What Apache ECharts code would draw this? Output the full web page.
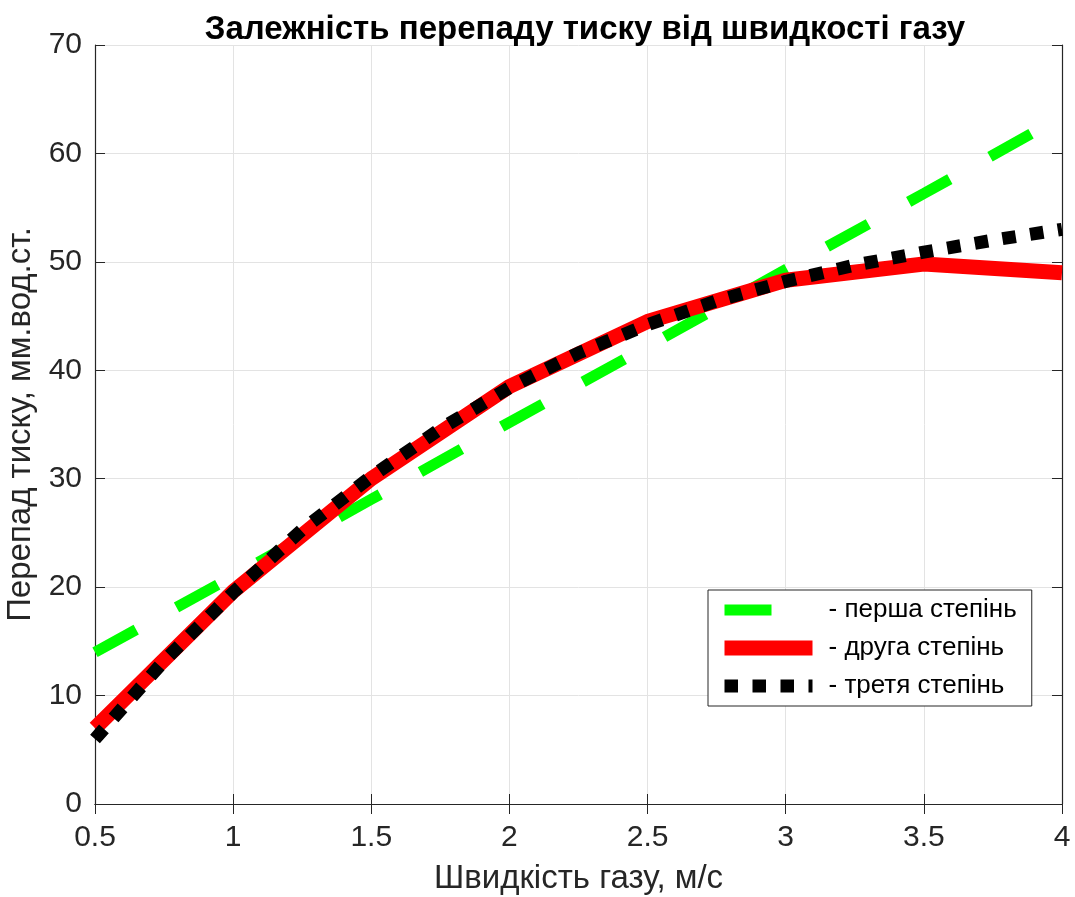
<!DOCTYPE html>
<html>
<head>
<meta charset="utf-8">
<script src="https://cdn.jsdelivr.net/npm/echarts@6/dist/echarts.min.js"></script>
<style>
html,body{margin:0;padding:0;background:#fff;}
#chart{width:1075px;height:897px;}
</style>
</head>
<body>
<div id="chart"></div>
<script>
const xValues = [0.5, 1, 1.5, 2, 2.5, 3, 3.5, 4];
const firstDegree = [14.0, 21.0, 28.1, 35.2, 42.2, 49.3, 56.3, 63.4];
const secondDegree = [7.0, 19.6, 30.0, 38.5, 44.5, 48.3, 49.8, 49.0];
const xThird = [0.5, 0.75, 1, 1.25, 1.5, 1.75, 2, 2.25, 2.5, 2.75, 3, 3.25, 3.5, 3.75, 4];
const thirdDegree = [6.0, 13.2, 19.5, 25.3, 30.2, 34.6, 38.4, 41.6, 44.2, 46.4, 48.2, 49.7, 50.9, 52.0, 53.0];
const seriesNames = ['- перша степінь', '- друга степінь', '- третя степінь'];
const titleText = 'Залежність перепаду тиску від швидкості газу';
const xName = 'Швидкість газу, м/с';
const yName = 'Перепад тиску, мм.вод.ст.';

const pairs = (xs, ys) => xs.map((x, i) => [x, ys[i]]);
const font = "'Liberation Sans', Arial, sans-serif";
const axisColor = '#262626';

const styles = [
  {color: '#00ff00', width: 11, type: [47, 46], cap: 'butt'},
  {color: '#ff0000', width: 15, type: 'solid', join: 'round'},
  {color: '#000000', width: 13, type: [13.5, 14.5], cap: 'butt'}
];

const chart = echarts.init(document.getElementById('chart'), null, {renderer: 'canvas'});
const baseX = {
  type: 'value', min: 0.5, max: 4, interval: 0.5,
  axisLine: {show: true, lineStyle: {color: axisColor, width: 1.2}},
  axisTick: {show: true, inside: true, length: 10, lineStyle: {color: axisColor}},
  splitLine: {show: false}
};
const baseY = {
  type: 'value', min: 0, max: 70, interval: 10,
  axisLine: {show: true, lineStyle: {color: axisColor, width: 1.2}},
  axisTick: {show: true, inside: true, length: 10, lineStyle: {color: axisColor}},
  splitLine: {show: false}
};
chart.setOption({
  animation: false,
  backgroundColor: '#fff',
  title: {
    text: titleText, left: 580, top: 8, textAlign: 'center',
    textStyle: {fontFamily: font, fontWeight: 'bold', fontSize: 33, color: '#000'}
  },
  grid: {left: 95, right: 13, top: 45, bottom: 93, containLabel: false, outerBoundsMode: 'none'},
  legend: {
    left: 708, top: 590, orient: 'vertical',
    itemWidth: 88, itemHeight: 15, itemGap: 12,
    padding: [7, 15, 7, 9],
    backgroundColor: '#fff',
    borderColor: axisColor, borderWidth: 1,
    textStyle: {fontFamily: font, fontSize: 26, color: '#000', padding: [0, 0, 0, 11]},
    data: seriesNames.map((n, i) => ({
      name: n,
      lineStyle: Object.assign({}, styles[i]),
      itemStyle: {opacity: 0}
    }))
  },
  xAxis: [
    Object.assign({}, baseX, {
      position: 'bottom',
      name: xName, nameLocation: 'middle', nameGap: 58,
      nameTextStyle: {fontFamily: font, fontSize: 33, color: axisColor},
      axisLabel: {show: true, fontFamily: font, fontSize: 30, color: axisColor, margin: 19},
      splitLine: {show: true, lineStyle: {color: '#e3e3e3', width: 1}}
    }),
    Object.assign({}, baseX, {position: 'top', axisLabel: {show: false}})
  ],
  yAxis: [
    Object.assign({}, baseY, {
      position: 'left',
      name: yName, nameLocation: 'middle', nameGap: 48,
      nameTextStyle: {fontFamily: font, fontSize: 33, color: axisColor},
      axisLabel: {show: true, fontFamily: font, fontSize: 30, color: axisColor, margin: 13},
      splitLine: {show: true, lineStyle: {color: '#e3e3e3', width: 1}}
    }),
    Object.assign({}, baseY, {position: 'right', axisLabel: {show: false}})
  ],
  series: [
    {
      name: seriesNames[0], type: 'line', showSymbol: false, symbol: 'none',
      data: pairs(xValues, firstDegree),
      lineStyle: styles[0],
      itemStyle: {color: styles[0].color}, z: 2
    },
    {
      name: seriesNames[1], type: 'line', showSymbol: false, symbol: 'none',
      data: pairs(xValues, secondDegree),
      lineStyle: styles[1],
      itemStyle: {color: styles[1].color}, z: 3
    },
    {
      name: seriesNames[2], type: 'line', showSymbol: false, symbol: 'none',
      data: pairs(xThird, thirdDegree),
      lineStyle: styles[2],
      itemStyle: {color: styles[2].color}, z: 4
    }
  ]
});
</script>
</body>
</html>
